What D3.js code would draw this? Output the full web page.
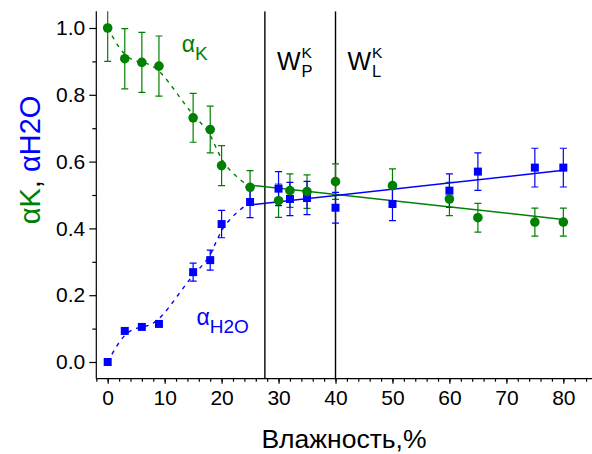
<!DOCTYPE html>
<html>
<head>
<meta charset="utf-8">
<script src="https://cdn.jsdelivr.net/npm/d3@7/dist/d3.min.js"></script>
<style>
  html, body { margin: 0; padding: 0; background: #fff; }
  svg { display: block; font-family: "Liberation Sans", Arial, sans-serif; }
</style>
</head>
<body>
<svg id="chart" width="592" height="454"></svg>
<script>
// Moisture content, %
const moisture = [0, 3, 6, 9, 15, 18, 20, 25, 30, 32, 35, 40, 50, 60, 65, 75, 80];
// Fraction of potassium (alpha_K) and its error
const alphaK    = [1.000, 0.908, 0.897, 0.886, 0.731, 0.696, 0.588, 0.523, 0.483, 0.513, 0.510, 0.540, 0.528, 0.488, 0.432, 0.419, 0.419];
const alphaKErr = [0.100, 0.090, 0.090, 0.090, 0.073, 0.070, 0.060, 0.050, 0.050, 0.050, 0.050, 0.053, 0.050, 0.050, 0.043, 0.042, 0.042];
// Fraction of water (alpha_H2O) and its error
const alphaW    = [0.000, 0.093, 0.105, 0.114, 0.269, 0.305, 0.413, 0.479, 0.519, 0.488, 0.491, 0.462, 0.473, 0.513, 0.570, 0.582, 0.582];
const alphaWErr = [0, 0, 0, 0, 0.027, 0.030, 0.041, 0.047, 0.051, 0.050, 0.050, 0.046, 0.050, 0.050, 0.056, 0.058, 0.058];
// Linear fits above 25 %
const fitX   = [25, 80];
const fitK   = [0.530, 0.427];
const fitW   = [0.470, 0.574];
// Number of leading points joined by the dashed trend curve
const trendCount = 8;
// Plastic (W_P) and liquid (W_L) limits
const limits = [27.6, 40];
const limitNames = ["P", "L"];
// Tick labels
const xTickValues = [0, 10, 20, 30, 40, 50, 60, 70, 80];
const yTickValues = [0.0, 0.2, 0.4, 0.6, 0.8, 1.0];

const GREEN = "#008000", BLUE = "#0000ff";
const svg = d3.select("#chart");

const x = d3.scaleLinear().domain([-2, 86]).range([96.3, 597.5]);
const y = d3.scaleLinear().domain([-0.05, 1.05]).range([378.7, 11.3]);
const [x0, x1] = x.range();
const [yb, yt] = y.range();

svg.append("defs").append("clipPath").attr("id", "plot")
  .append("rect").attr("x", x0).attr("y", yt).attr("width", x1 - x0).attr("height", yb - yt);

const plot = svg.append("g").attr("clip-path", "url(#plot)");

// limit lines
plot.selectAll("line.limit").data(limits).join("line")
  .attr("class", "limit")
  .attr("x1", d => x(d)).attr("x2", d => x(d))
  .attr("y1", yt).attr("y2", yb)
  .attr("stroke", "#000").attr("stroke-width", 1.4);

// error bars
function errorBars(vals, errs, color) {
  const data = moisture.map((m, i) => ({ m, v: vals[i], e: errs[i] })).filter(d => d.e > 0);
  const g = plot.append("g").attr("stroke", color).attr("stroke-width", 1.2).attr("fill", "none");
  g.selectAll("line.v").data(data).join("line")
    .attr("x1", d => x(d.m)).attr("x2", d => x(d.m))
    .attr("y1", d => y(d.v - d.e)).attr("y2", d => y(d.v + d.e));
  ["lo", "hi"].forEach(k => {
    g.selectAll("line." + k).data(data).join("line")
      .attr("x1", d => x(d.m) - 3.5).attr("x2", d => x(d.m) + 3.5)
      .attr("y1", d => y(k === "lo" ? d.v - d.e : d.v + d.e))
      .attr("y2", d => y(k === "lo" ? d.v - d.e : d.v + d.e));
  });
}
errorBars(alphaK, alphaKErr, GREEN);
errorBars(alphaW, alphaWErr, BLUE);

// dashed trend curves for the low-moisture range
const trend = d3.line().x(d => x(d[0])).y(d => y(d[1])).curve(d3.curveBasis);
[[alphaK, GREEN], [alphaW, BLUE]].forEach(([vals, color]) => {
  const pts = moisture.slice(0, trendCount).map((m, i) => [m, vals[i]]);
  plot.append("path").attr("d", trend(pts))
    .attr("fill", "none").attr("stroke", color).attr("stroke-width", 1.4)
    .attr("stroke-dasharray", "4,5");
});

// linear fits
const straight = d3.line().x(d => x(d[0])).y(d => y(d[1]));
[[fitK, GREEN], [fitW, BLUE]].forEach(([vals, color]) => {
  plot.append("path").attr("d", straight(fitX.map((m, i) => [m, vals[i]])))
    .attr("fill", "none").attr("stroke", color).attr("stroke-width", 1.5);
});

// markers
plot.selectAll("rect.w").data(moisture).join("rect")
  .attr("class", "w")
  .attr("x", (d) => x(d) - 4).attr("y", (d, i) => y(alphaW[i]) - 4)
  .attr("width", 8).attr("height", 8).attr("fill", BLUE);
plot.selectAll("circle.k").data(moisture).join("circle")
  .attr("class", "k")
  .attr("cx", d => x(d)).attr("cy", (d, i) => y(alphaK[i]))
  .attr("r", 4.8).attr("fill", GREEN);

// axes
const xAxis = d3.axisBottom(x).tickValues(xTickValues).tickFormat(d3.format("d")).tickSize(5).tickPadding(6);
const xMinor = d3.axisBottom(x).tickValues(d3.range(-2, 87, 2)).tickFormat("").tickSize(3);
const yAxis = d3.axisLeft(y).tickValues(yTickValues).tickFormat(d3.format(".1f")).tickSize(7).tickPadding(4);
const yMinor = d3.axisLeft(y).tickValues(d3.range(0.1, 1.01, 0.2)).tickFormat("").tickSize(4);

function styleAxis(g) {
  g.select(".domain").remove();
  g.selectAll("line").attr("stroke", "#000").attr("stroke-width", 1.2);
  g.selectAll("text").attr("fill", "#000").attr("font-size", 21).attr("font-family", "Liberation Sans, Arial, sans-serif");
}
svg.append("g").attr("transform", `translate(0,${yb})`).call(xMinor).call(styleAxis);
svg.append("g").attr("transform", `translate(0,${yb})`).call(xAxis).call(styleAxis);
svg.append("g").attr("transform", `translate(${x0},0)`).call(yMinor).call(styleAxis);
svg.append("g").attr("transform", `translate(${x0},0)`).call(yAxis).call(styleAxis);

svg.append("line").attr("x1", x0).attr("x2", x1).attr("y1", yb).attr("y2", yb)
  .attr("stroke", "#000").attr("stroke-width", 1.2);
svg.append("line").attr("x1", x0).attr("x2", x0).attr("y1", yt).attr("y2", yb)
  .attr("stroke", "#000").attr("stroke-width", 1.2);

// axis titles
svg.append("text").attr("x", 344).attr("y", 448).attr("text-anchor", "middle")
  .attr("font-size", 26.5).attr("fill", "#000").text("Влажность,%");

const yl = svg.append("text").attr("transform", "translate(40,160) rotate(-90)")
  .attr("text-anchor", "middle").attr("font-size", 29);
yl.append("tspan").attr("fill", GREEN).text("αK");
yl.append("tspan").attr("fill", "#000").text(", ");
yl.append("tspan").attr("fill", BLUE).text("αH2O");

// series labels
function seriesLabel(px, py, sub, color) {
  const t = svg.append("text").attr("x", px).attr("y", py).attr("fill", color).attr("font-size", 23);
  t.append("tspan").text("α");
  t.append("tspan").attr("dy", 8).attr("font-size", 19).text(sub);
}
seriesLabel(x(13), y(0.928), "K", GREEN);
seriesLabel(x(15.6), y(0.111), "H2O", BLUE);

// limit labels
limits.forEach((v, i) => {
  const lx = x(v) + 12;
  svg.append("text").attr("x", lx).attr("y", 70).attr("font-size", 25).attr("fill", "#000").text("W");
  svg.append("text").attr("x", lx + 24.5).attr("y", 58).attr("font-size", 15.5).attr("fill", "#000").text("K");
  svg.append("text").attr("x", lx + 24.5).attr("y", 77).attr("font-size", 16.5).attr("fill", "#000").text(limitNames[i]);
});
</script>
</body>
</html>
